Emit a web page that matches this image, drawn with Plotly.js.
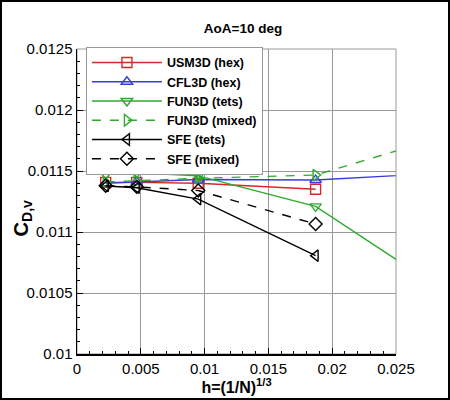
<!DOCTYPE html>
<html>
<head>
<meta charset="utf-8">
<script src="https://cdn.plot.ly/plotly-3.0.1.min.js"></script>
<style>
  html, body { margin: 0; padding: 0; background: #fff; }
  #wrap { position: relative; width: 450px; height: 400px; }
  #drag { width: 450px; height: 400px; }
  #frame { position: absolute; left: 0; top: 0; width: 450px; height: 400px;
           box-sizing: border-box; border: 2px solid #000; pointer-events: none; z-index: 10; }
</style>
</head>
<body>
<div id="wrap">
  <div id="drag"></div>
  <div id="frame"></div>
</div>
<script>
// grid size h=(1/N)^(1/3); last entry is the coarse grid just off the axis
var hGrid = [0.00225, 0.00468, 0.0095, 0.0187, 0.037];

var usm3dHex = [0.011407, 0.011407, 0.011399, 0.01135];
var cfl3dHex = [0.0114, 0.01141, 0.01143, 0.011426, 0.01153];
var fun3dTets = [0.011473, 0.011486, 0.01146, 0.01121, 0.00995];
var fun3dMixed = [0.01141, 0.01142, 0.01144, 0.011467, 0.01204];
var sfeTets = [0.011377, 0.011363, 0.01127, 0.010806];
var sfeMixed = [0.01138, 0.01137, 0.01134, 0.011065];

var xTicks = [0, 0.005, 0.01, 0.015, 0.02, 0.025];
var xTickText = ['0', '0.005', '0.01', '0.015', '0.02', '0.025'];
var yTicks = [0.01, 0.0105, 0.011, 0.0115, 0.012, 0.0125];
var yTickText = ['0.01', '0.0105', '0.011', '0.0115', '0.012', '0.0125'];

function series(name, y, color, symbol, dash) {
    return {
        type: 'scatter',
        mode: 'lines+markers',
        name: name,
        x: hGrid.slice(0, y.length),
        y: y,
        line: {color: color, width: 1.4, dash: dash || 'solid'},
        marker: {symbol: symbol, size: 10, color: color, line: {color: color, width: 1.4}},
        cliponaxis: true
    };
}

var data = [
    series('USM3D (hex)', usm3dHex, '#d42a2a', 'square-open'),
    series('CFL3D (hex)', cfl3dHex, '#3b3bdc', 'triangle-up-open'),
    series('FUN3D (tets)', fun3dTets, '#2eaa2e', 'triangle-down-open'),
    series('FUN3D (mixed)', fun3dMixed, '#2eaa2e', 'triangle-right-open', 'dash'),
    series('SFE (tets)', sfeTets, '#000000', 'triangle-left-open'),
    series('SFE (mixed)', sfeMixed, '#000000', 'diamond-open', 'dash')
];

var font = 'Liberation Sans, Arial, sans-serif';

var layout = {
    width: 450,
    height: 400,
    paper_bgcolor: '#fff',
    plot_bgcolor: '#fff',
    margin: {l: 77, r: 54, t: 49, b: 46},
    font: {family: font, size: 15, color: '#000'},
    showlegend: true,
    title: {
        text: 'AoA=10 deg',
        font: {family: font, size: 13.5, weight: 'bold'},
        x: 0.54,
        xanchor: 'center',
        y: 0.93,
        yanchor: 'middle'
    },
    legend: {
        x: 0.028,
        y: 1.007,
        xanchor: 'left',
        yanchor: 'top',
        bgcolor: '#fff',
        bordercolor: '#999',
        borderwidth: 1,
        itemwidth: 70,
        font: {family: font, size: 12.5, weight: 'bold'}
    },
    xaxis: {
        range: [0, 0.025],
        tickmode: 'array',
        tickvals: xTicks,
        ticktext: xTickText,
        ticks: 'inside',
        ticklen: 6,
        tickwidth: 1,
        tickcolor: '#000',
        showline: true,
        linecolor: '#000',
        linewidth: 1.5,
        showgrid: true,
        gridcolor: '#999',
        gridwidth: 1,
        zeroline: false,
        minor: {tick0: 0, dtick: 0.001, ticks: 'inside', ticklen: 3, tickcolor: '#000', showgrid: false},
        title: {
            text: 'h=(1/N)<sup>1/3</sup>',
            font: {family: font, size: 16, weight: 'bold'},
            standoff: 4
        }
    },
    yaxis: {
        range: [0.01, 0.0125],
        tickmode: 'array',
        tickvals: yTicks,
        ticktext: yTickText,
        ticks: 'inside',
        ticklen: 6,
        tickwidth: 1,
        tickcolor: '#000',
        showline: true,
        linecolor: '#000',
        linewidth: 1.5,
        showgrid: true,
        gridcolor: '#999',
        gridwidth: 1,
        zeroline: false,
        minor: {tick0: 0.01, dtick: 0.0001, ticks: 'inside', ticklen: 3, tickcolor: '#000', showgrid: false}
    },
    annotations: [{
        text: 'C<sub>D,v</sub>',
        textangle: -90,
        xref: 'paper', yref: 'paper',
        x: -0.172, y: 0.445,
        xanchor: 'center', yanchor: 'middle',
        showarrow: false,
        font: {family: font, size: 20, weight: 'bold'}
    }],
    shapes: [{
        type: 'rect', xref: 'paper', yref: 'paper',
        x0: 0, x1: 1, y0: 0, y1: 1,
        line: {color: '#999', width: 1},
        layer: 'below'
    }]
};

Plotly.newPlot('drag', data, layout, {displayModeBar: false, staticPlot: true});
</script>
</body>
</html>
